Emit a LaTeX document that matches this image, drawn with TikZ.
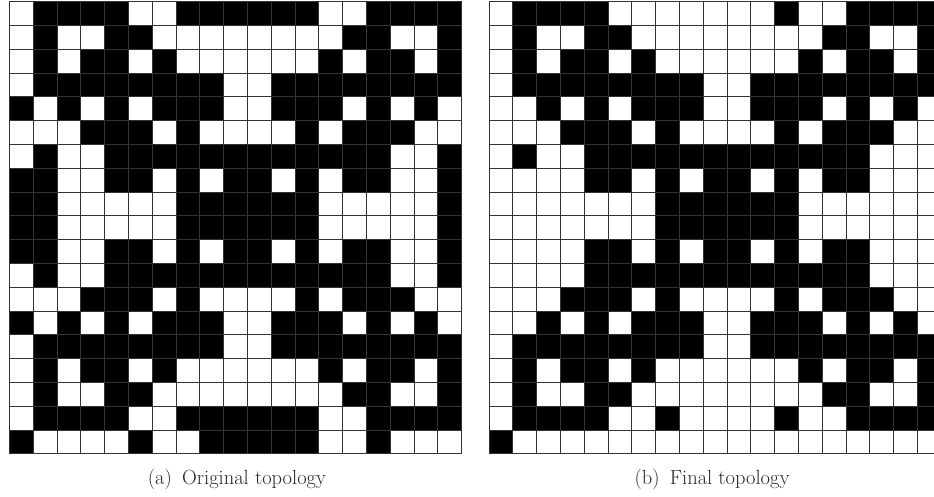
\documentclass[tikz,border=0pt]{standalone}
\usepackage{tikz}
\usetikzlibrary{positioning}

\begin{document}
\begin{tikzpicture}[x=1pt, y=-1pt,
  cellbox/.style={draw=black!80, line width=0.9pt},
  caption/.style={text=black!85, font=\fontsize{20.5}{24}\selectfont, inner sep=0pt, anchor=base}]

  \clip (0,0) rectangle (934,496);
  \def\w{23.8}

  % original topology (1 = material)
  \begin{scope}[shift={(9.5,1.7)}]
  \foreach \cells [count=\row from 0] in {
    {0,1,1,1,1,0,0,1,1,1,1,1,1,0,0,1,1,1,1},
    {0,1,0,0,1,1,0,0,0,0,0,0,0,0,1,1,0,0,1},
    {0,1,0,1,1,0,1,0,0,0,0,0,0,1,0,1,1,0,1},
    {0,1,1,1,1,1,1,1,1,0,0,1,1,1,1,1,1,1,1},
    {1,0,1,0,1,0,1,1,1,0,0,1,1,1,0,1,0,1,0},
    {0,0,0,1,1,1,0,1,0,0,0,0,1,0,1,1,1,0,0},
    {0,1,0,0,1,1,1,1,1,1,1,1,1,1,1,1,0,0,1},
    {1,1,0,0,1,1,0,1,0,1,1,0,1,0,1,1,0,0,1},
    {1,1,0,0,0,0,0,1,1,1,1,1,1,0,0,0,0,0,1},
    {1,1,0,0,0,0,0,1,1,1,1,1,1,0,0,0,0,0,1},
    {1,1,0,0,1,1,0,1,0,1,1,0,1,0,1,1,0,0,1},
    {0,1,0,0,1,1,1,1,1,1,1,1,1,1,1,1,0,0,1},
    {0,0,0,1,1,1,0,1,0,0,0,0,1,0,1,1,1,0,0},
    {1,0,1,0,1,0,1,1,1,0,0,1,1,1,0,1,0,1,0},
    {0,1,1,1,1,1,1,1,1,0,0,1,1,1,1,1,1,1,1},
    {0,1,0,1,1,0,1,0,0,0,0,0,0,1,0,1,1,0,1},
    {0,1,0,0,1,1,0,0,0,0,0,0,0,0,1,1,0,0,1},
    {0,1,1,1,1,0,0,1,1,1,1,1,1,0,0,1,1,1,1},
    {1,0,0,0,0,1,0,0,1,1,1,1,1,0,0,1,0,0,0}}{
    \foreach \v [count=\col from 0] in \cells {
      \ifnum\v=1 \def\tone{black}\else\def\tone{white}\fi
      \draw[cellbox, fill=\tone] (\col*\w,\row*\w) rectangle ++(\w,\w);
    }
  }
  \end{scope}

  % final topology
  \begin{scope}[shift={(489,1.7)}]
  \foreach \cells [count=\row from 0] in {
    {0,1,1,1,1,0,0,0,0,0,0,0,1,0,0,1,1,1,1},
    {0,1,0,0,1,1,0,0,0,0,0,0,0,0,1,1,0,0,1},
    {0,1,0,1,1,0,1,0,0,0,0,0,0,1,0,1,1,0,1},
    {0,1,1,1,1,1,1,1,1,0,0,1,1,1,1,1,1,1,1},
    {0,0,1,0,1,0,1,1,1,0,0,1,1,1,0,1,0,1,0},
    {0,0,0,1,1,1,0,1,0,0,0,0,1,0,1,1,1,0,0},
    {0,1,0,0,1,1,1,1,1,1,1,1,1,1,1,1,0,0,0},
    {0,0,0,0,1,1,0,1,0,1,1,0,1,0,1,1,0,0,0},
    {0,0,0,0,0,0,0,1,1,1,1,1,1,0,0,0,0,0,0},
    {0,0,0,0,0,0,0,1,1,1,1,1,1,0,0,0,0,0,0},
    {0,0,0,0,1,1,0,1,0,1,1,0,1,0,1,1,0,0,0},
    {0,0,0,0,1,1,1,1,1,1,1,1,1,1,1,1,0,0,0},
    {0,0,0,1,1,1,0,1,0,0,0,0,1,0,1,1,1,0,0},
    {0,0,1,0,1,0,1,1,1,0,0,1,1,1,0,1,0,1,0},
    {0,1,1,1,1,1,1,1,1,0,0,1,1,1,1,1,1,1,1},
    {0,1,0,1,1,0,1,0,0,0,0,0,0,1,0,1,1,0,1},
    {0,1,0,0,1,1,0,0,0,0,0,0,0,0,1,1,0,0,1},
    {0,1,1,1,1,0,0,1,0,0,0,0,1,0,0,1,1,1,1},
    {1,0,0,0,0,0,0,0,0,0,0,0,0,0,0,0,0,0,0}}{
    \foreach \v [count=\col from 0] in \cells {
      \ifnum\v=1 \def\tone{black}\else\def\tone{white}\fi
      \draw[cellbox, fill=\tone] (\col*\w,\row*\w) rectangle ++(\w,\w);
    }
  }
  \end{scope}

  \node (capa) [caption] at (237,484.5) {(a)\enspace Original topology};
  \node (capb) [caption] at (712,484.5) {(b)\enspace Final topology};
\end{tikzpicture}
\end{document}
